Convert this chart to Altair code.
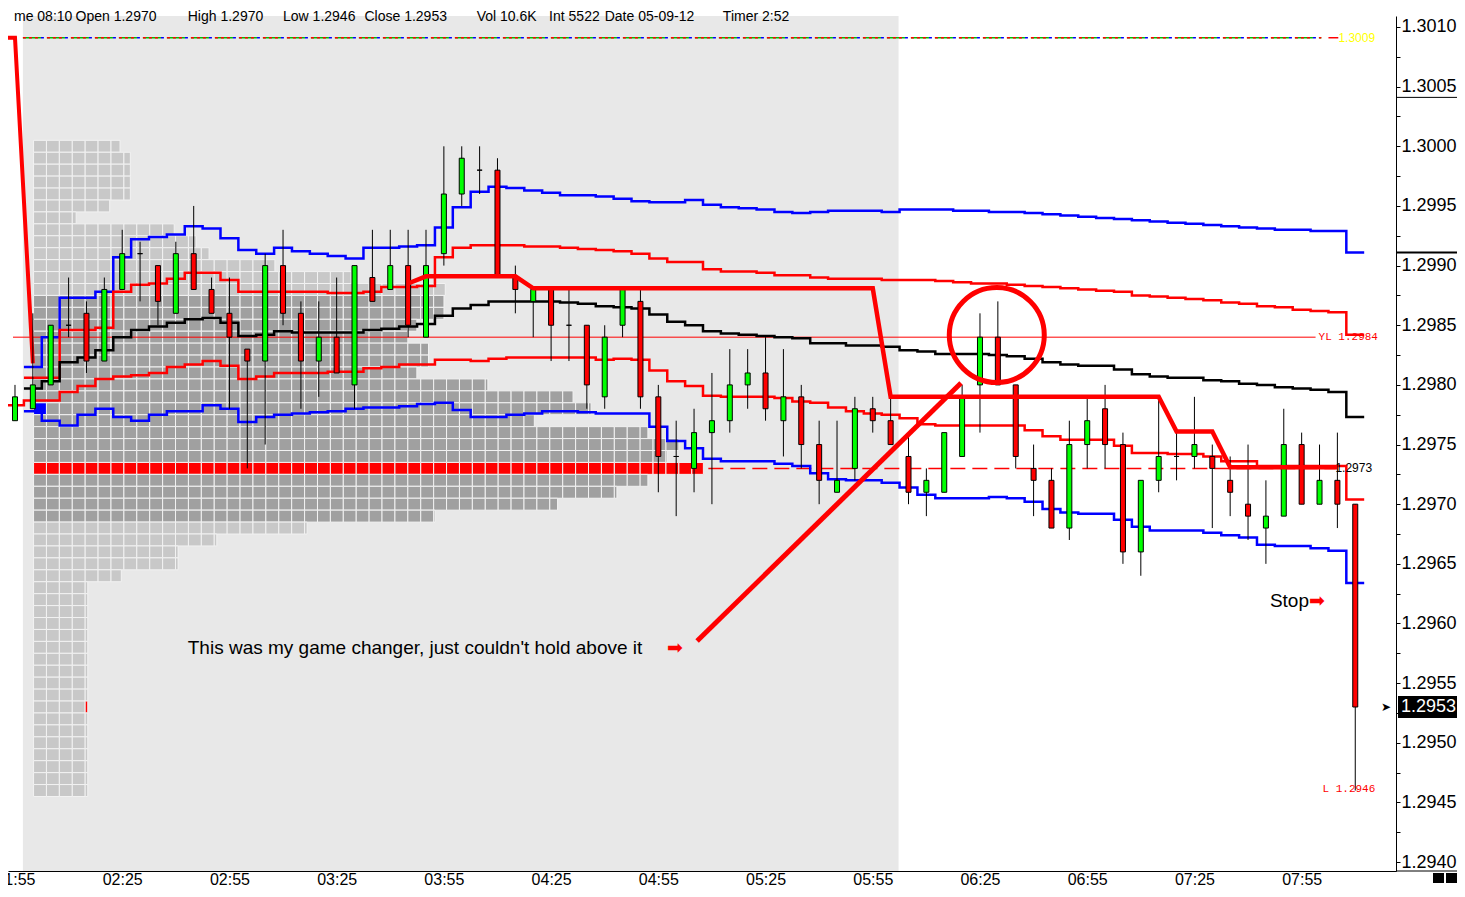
import altair as alt
import pandas as pd

# ---------------- data ----------------
x_tick_labels = ["01:55", "02:25", "02:55", "03:25", "03:55", "04:25", "04:55",
                 "05:25", "05:55", "06:25", "06:55", "07:25", "07:55"]
y_tick_labels = ["1.2940", "1.2945", "1.2950", "1.2955", "1.2960", "1.2965", "1.2970", "1.2975",
                 "1.2980", "1.2985", "1.2990", "1.2995", "1.3000", "1.3005", "1.3010"]

# 5-minute bars, 01:55 .. 08:10
opens = [1.2977, 1.2978, 1.2980, 1.2985, 1.2986, 1.2982, 1.2988, 1.2991, 1.2990, 1.2986,
         1.2991, 1.2988, 1.2986, 1.2983, 1.2982, 1.2990, 1.2986, 1.2982, 1.2984, 1.2980,
         1.2989, 1.2988, 1.2990, 1.2984, 1.2991, 1.2996, 1.2998, 1.2998, 1.2989, 1.2987,
         1.2988, 1.2985, 1.2985, 1.2979, 1.2985, 1.2987, 1.2979, 1.2974, 1.2973, 1.2976,
         1.2977, 1.2980, 1.2981, 1.2977, 1.2979, 1.2975, 1.2971, 1.2973, 1.2978, 1.2977,
         1.2974, 1.2971, 1.2971, 1.2974, 1.2980, 1.2984, 1.2980, 1.2973, 1.2972, 1.2968,
         1.2975, 1.2978, 1.2975, 1.2966, 1.2972, 1.2974, 1.2974, 1.2974, 1.2972, 1.2970,
         1.2968, 1.2969, 1.2975, 1.2970, 1.2972, 1.2970]
highs = [1.2980, 1.2986, 1.2985, 1.2989, 1.2987, 1.2989, 1.2993, 1.2992, 1.2990, 1.2992,
         1.2995, 1.2989, 1.2989, 1.2983, 1.2991, 1.2993, 1.2987, 1.2987, 1.2989, 1.2990,
         1.2993, 1.2993, 1.2993, 1.2993, 1.3000, 1.3000, 1.3000, 1.2999, 1.2990, 1.2988,
         1.2988, 1.2988, 1.2985, 1.2985, 1.2988, 1.2988, 1.2980, 1.2977, 1.2978, 1.2981,
         1.2983, 1.2983, 1.2984, 1.2983, 1.2980, 1.2977, 1.2977, 1.2979, 1.2979, 1.2979,
         1.2976, 1.2973, 1.2976, 1.2980, 1.2986, 1.2987, 1.2980, 1.2975, 1.2973, 1.2977,
         1.2979, 1.2980, 1.2976, 1.2972, 1.2979, 1.2976, 1.2979, 1.2975, 1.2974, 1.2975,
         1.2972, 1.2978, 1.2976, 1.2975, 1.2976, 1.2970]
lows = [1.2977, 1.2978, 1.2980, 1.2984, 1.2981, 1.2982, 1.2988, 1.2987, 1.2985, 1.2986,
        1.2988, 1.2986, 1.2978, 1.2973, 1.2975, 1.2985, 1.2978, 1.2979, 1.2981, 1.2978,
        1.2987, 1.2988, 1.2984, 1.2984, 1.2990, 1.2995, 1.2996, 1.2989, 1.2986, 1.2984,
        1.2982, 1.2982, 1.2978, 1.2978, 1.2984, 1.2978, 1.2971, 1.2969, 1.2971, 1.2970,
        1.2976, 1.2978, 1.2977, 1.2974, 1.2973, 1.2970, 1.2971, 1.2972, 1.2976, 1.2975,
        1.2970, 1.2969, 1.2971, 1.2974, 1.2976, 1.2980, 1.2973, 1.2969, 1.2968, 1.2967,
        1.2973, 1.2973, 1.2965, 1.2964, 1.2971, 1.2972, 1.2973, 1.2968, 1.2969, 1.2967,
        1.2965, 1.2969, 1.2970, 1.2970, 1.2968, 1.2946]
closes = [1.2979, 1.2980, 1.2985, 1.2985, 1.2982, 1.2988, 1.2991, 1.2991, 1.2987, 1.2991,
          1.2988, 1.2986, 1.2984, 1.2982, 1.2990, 1.2986, 1.2982, 1.2984, 1.2981, 1.2990,
          1.2987, 1.2990, 1.2985, 1.2990, 1.2996, 1.2999, 1.2998, 1.2989, 1.2988, 1.2988,
          1.2985, 1.2985, 1.2980, 1.2984, 1.2988, 1.2979, 1.2974, 1.2974, 1.2976, 1.2977,
          1.2980, 1.2981, 1.2978, 1.2979, 1.2975, 1.2972, 1.2972, 1.2978, 1.2977, 1.2975,
          1.2971, 1.2972, 1.2976, 1.2979, 1.2984, 1.2980, 1.2974, 1.2972, 1.2968, 1.2975,
          1.2977, 1.2975, 1.2966, 1.2972, 1.2974, 1.2974, 1.2975, 1.2973, 1.2971, 1.2969,
          1.2969, 1.2975, 1.2970, 1.2972, 1.2970, 1.2953]

# band / VWAP values per bar (None = not drawn)
blue_up = [None, 1.29815, 1.29840, 1.29873, 1.29873, 1.29878, 1.29907, 1.29922, 1.29924, 1.29926,
           1.29933, 1.29931, 1.29923, 1.29913, 1.29910, 1.29915, 1.29912, 1.29910, 1.29908, 1.29906,
           1.29915, 1.29915, 1.29916, 1.29917, 1.29932, 1.29949, 1.29962, 1.29966, 1.29965, 1.29963,
           1.29961, 1.29959, 1.29959, 1.29958, 1.29956, 1.29954, 1.29953, 1.29953, 1.29955, 1.29951,
           1.29949, 1.29948, 1.29947, 1.29945, 1.29944, 1.29945, 1.29946, 1.29946, 1.29946, 1.29945,
           1.29947, 1.29947, 1.29947, 1.29946, 1.29946, 1.29945, 1.29945, 1.29944, 1.29943, 1.29942,
           1.29941, 1.29940, 1.29939, 1.29938, 1.29937, 1.29936, 1.29935, 1.29934, 1.29933, 1.29932,
           1.29931, 1.29930, 1.29930, 1.29929, 1.29929, 1.29911]
red_up = [None, 1.29806, 1.29806, 1.29846, 1.29846, 1.29848, 1.29878, 1.29884, 1.29885, 1.29889,
          1.29894, 1.29894, 1.29888, 1.29878, 1.29878, 1.29878, 1.29878, 1.29878, 1.29877, 1.29877,
          1.29878, 1.29882, 1.29882, 1.29883, 1.29907, 1.29915, 1.29917, 1.29917, 1.29917, 1.29916,
          1.29916, 1.29915, 1.29914, 1.29913, 1.29912, 1.29910, 1.29906, 1.29903, 1.29903, 1.29897,
          1.29895, 1.29895, 1.29894, 1.29892, 1.29892, 1.29890, 1.29889, 1.29889, 1.29889, 1.29888,
          1.29888, 1.29888, 1.29887, 1.29886, 1.29885, 1.29885, 1.29884, 1.29883, 1.29882, 1.29881,
          1.29880, 1.29879, 1.29878, 1.29875, 1.29874, 1.29873, 1.29872, 1.29871, 1.29869, 1.29868,
          1.29866, 1.29865, 1.29863, 1.29862, 1.29861, 1.29842]
vwap = [None, 1.29797, 1.29803, 1.29819, 1.29823, 1.29829, 1.29840, 1.29846, 1.29849, 1.29852,
        1.29855, 1.29856, 1.29852, 1.29841, 1.29842, 1.29845, 1.29844, 1.29844, 1.29844, 1.29844,
        1.29846, 1.29847, 1.29849, 1.29851, 1.29858, 1.29864, 1.29867, 1.29870, 1.29870, 1.29870,
        1.29870, 1.29869, 1.29868, 1.29866, 1.29865, 1.29864, 1.29859, 1.29853, 1.29850, 1.29845,
        1.29843, 1.29842, 1.29841, 1.29840, 1.29839, 1.29835, 1.29835, 1.29833, 1.29833, 1.29832,
        1.29829, 1.29828, 1.29826, 1.29826, 1.29826, 1.29825, 1.29824, 1.29822, 1.29819, 1.29817,
        1.29816, 1.29816, 1.29813, 1.29809, 1.29807, 1.29806, 1.29806, 1.29804, 1.29803, 1.29801,
        1.29800, 1.29798, 1.29797, 1.29796, 1.29794, 1.29773]
red_lo = [1.29783, 1.29787, 1.29787, 1.29794, 1.29799, 1.29805, 1.29807, 1.29808, 1.29810, 1.29815,
          1.29817, 1.29820, 1.29816, 1.29805, 1.29807, 1.29810, 1.29810, 1.29810, 1.29811, 1.29811,
          1.29814, 1.29815, 1.29817, 1.29817, 1.29821, 1.29821, 1.29820, 1.29822, 1.29823, 1.29823,
          1.29823, 1.29823, 1.29823, 1.29821, 1.29822, 1.29821, 1.29812, 1.29803, 1.29799, 1.29791,
          1.29790, 1.29790, 1.29790, 1.29789, 1.29786, 1.29785, 1.29781, 1.29778, 1.29776, 1.29775,
          1.29772, 1.29767, 1.29766, 1.29766, 1.29766, 1.29766, 1.29766, 1.29762, 1.29757, 1.29754,
          1.29754, 1.29754, 1.29749, 1.29743, 1.29743, 1.29742, 1.29742, 1.29740, 1.29736, 1.29736,
          1.29732, 1.29732, 1.29732, 1.29732, 1.29732, 1.29704]
blue_lo = [None, 1.29778, 1.29770, 1.29766, 1.29775, 1.29780, 1.29773, 1.29770, 1.29775, 1.29778,
           1.29778, 1.29783, 1.29780, 1.29769, 1.29773, 1.29775, 1.29776, 1.29777, 1.29778, 1.29780,
           1.29781, 1.29781, 1.29782, 1.29784, 1.29785, 1.29779, 1.29773, 1.29773, 1.29775, 1.29776,
           1.29778, 1.29778, 1.29777, 1.29776, 1.29776, 1.29776, 1.29765, 1.29753, 1.29747, 1.29738,
           1.29736, 1.29736, 1.29736, 1.29734, 1.29732, 1.29726, 1.29721, 1.29720, 1.29720, 1.29718,
           1.29714, 1.29708, 1.29705, 1.29705, 1.29705, 1.29706, 1.29705, 1.29702, 1.29696, 1.29693,
           1.29692, 1.29692, 1.29687, 1.29681, 1.29678, 1.29678, 1.29678, 1.29676, 1.29674, 1.29672,
           1.29666, 1.29665, 1.29665, 1.29663, 1.29661, 1.29634]

# thick red key-level line (bar index, price)
level_bars = [22, 23, 28, 29, 48, 49, 64, 65, 67, 68, 74]
level_vals = [1.29885, 1.29891, 1.29891, 1.29881, 1.29881, 1.29790, 1.29790, 1.29761, 1.29761, 1.29731, 1.29731]
# opening red line falling from the previous level
start_bars = [-0.6, 0.0, 1.0]
start_vals = [1.30091, 1.30091, 1.29818]

# volume profile (price levels and width in grid cells)
prof_prices = [round(1.3000 - 0.0001 * k, 4) for k in range(55)]
prof_cells = [6.7, 7.5, 7.5, 7.5, 7.5, 5.9, 3.3, 10.9, 12.6, 13.6,
              18.7, 24.6, 31.9, 31.8, 31.8, 29.7, 29.0, 30.6, 30.6, 29.7,
              35.2, 41.8, 43.2, 38.8, 47.6, 50.0, 49.1, 51.9, 47.6, 45.2,
              40.6, 31.1, 21.2, 14.2, 11.2, 11.2, 6.8,
              4.2, 4.2, 4.2, 4.2, 4.2, 4.2, 4.2, 4.2, 4.2, 4.2, 4.2, 4.2, 4.2, 4.2, 4.2, 4.2, 4.2, 4.2]
poc_price = 1.2973
va_high, va_low = 1.2987, 1.2969
session_open_price = 1.2978

yl_price = 1.2984
poc_line_price = 1.2973
top_line_price = 1.30091
day_low_price = 1.2946
axis_marks = [1.30041, 1.29911]

header_fields = ["me 08:10", f"Open {opens[-1]:.4f}", f"High {highs[-1]:.4f}", f"Low {lows[-1]:.4f}",
                 f"Close {closes[-1]:.4f}", "Vol 10.6K", "Int 5522", "Date 05-09-12", "Timer 2:52"]

# ---------------- layout ----------------
FONT = "Liberation Sans, Arial, Helvetica, sans-serif"
MONO = "Liberation Mono, DejaVu Sans Mono, monospace"
W, H = 1388, 855
XD = [-2 / 18, 1386 / 18]
YD = [1.2939254, 1.3010922]
xs = alt.Scale(domain=XD, nice=False, zero=False)
ys = alt.Scale(domain=YD, nice=False, zero=False)

arr = "[" + ",".join(f"'{t}'" for t in x_tick_labels) + "]"
x_axis = alt.Axis(values=[6 * k for k in range(len(x_tick_labels))],
                  labelExpr=f"{arr}[round(datum.value/6)]",
                  ticks=False, labelFontSize=16, labelFont=FONT, labelColor="black",
                  labelPadding=0, labelBaseline="top", domainColor="black", grid=False,
                  labelFlush=False, labelOverlap=False, title="", zindex=1)
majors = [float(s) for s in y_tick_labels]
ytick_vals = sorted(set(majors + [round(m + 0.00025, 5) for m in majors[:-1]]))
y_axis = alt.Axis(orient="right", values=ytick_vals,
                  labelExpr="(round(datum.value*4000) % 2 == 0) ? format(datum.value, '.4f') : ''",
                  labelFontSize=18, labelFont=FONT, labelColor="black", labelAlign="left",
                  labelBaseline="middle", labelPadding=1, tickColor="black", tickSize=4,
                  domainColor="black", grid=False, labelFlush=False, labelOverlap=False,
                  title="", zindex=1)


def X(f):
    return alt.X(f, type="quantitative", scale=xs, axis=x_axis)


def Y(f):
    return alt.Y(f, type="quantitative", scale=ys, axis=y_axis)


def bx(px):  # picture x -> bar units
    return (px - 10) / 18


one = pd.DataFrame({"a": [0]})

# session background
bg_df = pd.DataFrame({"x0": [0.444], "x1": [49.444], "y0": [YD[0]], "y1": [YD[1]]})
bg = alt.Chart(bg_df).mark_rect(color="#e8e8e8").encode(x=X("x0"), x2="x1", y=Y("y0"), y2="y1")

# volume profile cells
P0 = (28.7 - 10) / 18
CW = 13 / 18
cells = []
for p, n in zip(prof_prices, prof_cells):
    k = 0
    while k < n - 1e-9:
        w = min(1.0, n - k)
        if abs(p - poc_price) < 1e-6:
            f = "#ff0000"
        elif va_low - 1e-6 <= p <= va_high + 1e-6:
            f = "#a0a0a0"
        else:
            f = "#c8c8c8"
        if abs(p - session_open_price) < 1e-6 and k == 0:
            f = "#0000ff"
        if abs(p - closes[-1]) < 1e-6 and k + 1 >= n:
            f = "#ff0000"
        cells.append({"x0": P0 + k * CW, "x1": P0 + (k + w) * CW,
                      "y0": p - 0.00005, "y1": p + 0.00005, "f": f})
        k += 1
prof = alt.Chart(pd.DataFrame(cells)).mark_rect(stroke="#f2f2f2", strokeWidth=1).encode(
    x=X("x0"), x2="x1", y=Y("y0"), y2="y1", color=alt.Color("f:N", scale=None))

# horizontal reference lines
yl_df = pd.DataFrame({"x0": [XD[0]], "x1": [72.78], "y": [yl_price]})
yl = alt.Chart(yl_df).mark_rule(color="#ff0000", strokeWidth=1).encode(x=X("x0"), x2="x1", y=Y("y"))
poc_df = pd.DataFrame({"x0": [38.8], "x1": [73.9], "y": [poc_line_price]})
poc_line = alt.Chart(poc_df).mark_rule(color="#ff0000", strokeWidth=1.5, strokeDash=[15, 7]).encode(
    x=X("x0"), x2="x1", y=Y("y"))
top_df = pd.DataFrame({"x0": [0.444], "x1": [73.1], "y": [top_line_price]})
top_g = alt.Chart(top_df).mark_rule(color="#00c000", strokeWidth=1.5, strokeDash=[18, 6]).encode(
    x=X("x0"), x2="x1", y=Y("y"))
top_r = alt.Chart(top_df).mark_rule(color="#ff0000", strokeWidth=1.5, strokeDash=[3, 3, 3, 3, 3, 9]).encode(
    x=X("x0"), x2="x1", y=Y("y"))
top_b = alt.Chart(top_df).mark_rule(color="#0000ff", strokeWidth=1.5, strokeDash=[3, 21],
                                    strokeDashOffset=-18).encode(x=X("x0"), x2="x1", y=Y("y"))
top_end = alt.Chart(pd.DataFrame({"x0": [73.5], "x1": [74.05], "y": [top_line_price]})).mark_rule(
    color="#ff0000", strokeWidth=1.5).encode(x=X("x0"), x2="x1", y=Y("y"))

# bands
rows = []
for name, vals, col in [("blue_up", blue_up, "#0000ff"), ("red_up", red_up, "#ff0000"),
                        ("vwap", vwap, "#000000"), ("red_lo", red_lo, "#ff0000"),
                        ("blue_lo", blue_lo, "#0000ff")]:
    idx = [i for i, v in enumerate(vals) if v is not None]
    for i in idx:
        rows.append({"s": name, "x": i - 0.5, "v": vals[i], "c": col})
    rows.append({"s": name, "x": idx[-1] + 0.5, "v": vals[idx[-1]], "c": col})
bands = alt.Chart(pd.DataFrame(rows)).mark_line(interpolate="step-after", strokeWidth=2.5).encode(
    x=X("x"), y=Y("v"), color=alt.Color("c:N", scale=None), detail="s:N")

level = alt.Chart(pd.DataFrame({"x": level_bars, "v": level_vals})).mark_line(
    color="#ff0000", strokeWidth=4.5).encode(x=X("x"), y=Y("v"))
start = alt.Chart(pd.DataFrame({"x": start_bars, "v": start_vals})).mark_line(
    color="#ff0000", strokeWidth=4).encode(x=X("x"), y=Y("v"))

# candles
cdf = pd.DataFrame({"x": list(range(len(opens))), "o": opens, "h": highs, "l": lows, "c": closes})
cdf["f"] = ["#00ff00" if c > o else "#ff0000" for o, c in zip(opens, closes)]
wicks = alt.Chart(cdf).mark_rule(color="black", strokeWidth=1).encode(x=X("x"), y=Y("l"), y2="h")
bodies = alt.Chart(cdf).mark_bar(size=5, stroke="black", strokeWidth=1).encode(
    x=X("x"), y=Y("o"), y2="c", color=alt.Color("f:N", scale=None))

# annotations
circle = alt.Chart(pd.DataFrame({"x": [54.94], "y": [1.298418]})).mark_point(
    shape="circle", filled=False, size=9025, color="#ff0000", strokeWidth=5, opacity=1).encode(
    x=X("x"), y=Y("y"))
diag = alt.Chart(pd.DataFrame({"x": [38.17, 52.94], "y": [1.295853, 1.298016]})).mark_line(
    color="#ff0000", strokeWidth=5).encode(x=X("x"), y=Y("y"))


def label(x, y, text, color="black", size=19, font=FONT, align="left"):
    return alt.Chart(pd.DataFrame({"x": [x], "y": [y], "t": [text]})).mark_text(
        align=align, baseline="middle", fontSize=size, font=font, color=color).encode(
        x=X("x"), y=Y("y"), text="t:N")


txt1 = label(bx(184), 1.295795, "This was my game changer, just couldn't hold above it")
arr1 = label(bx(675), 1.295795, "➡", color="#ff0000", size=19, align="center")
stop = label(bx(1274), 1.296189, "Stop")
arr2 = label(bx(1321), 1.296189, "➡", color="#ff0000", size=19, align="center")
yl_t = label(bx(1323), yl_price, f"YL {yl_price:.4f}", color="#ff0000", size=11, font=MONO)
poc_t = label(bx(1340), poc_line_price, f"{poc_line_price:.4f}", size=12)
low_t = label(bx(1327), 1.29461, f"L {day_low_price:.4f}", color="#ff0000", size=11, font=MONO)
top_t = label(bx(1343), top_line_price, f"{top_line_price:.4f}", color="#ffff00", size=12)

# header (positions in picture pixels, converted to bar units)
hx = [9, 71, 184, 280, 362, 475, 548, 604, 723]
hdf = pd.DataFrame({"x": [bx(v) for v in hx], "t": header_fields})
header = alt.Chart(hdf).mark_text(align="left", baseline="alphabetic", fontSize=14, font=FONT,
                                  color="black").encode(x=X("x"), y=alt.value(5), text="t:N")

# price marker on the axis
pm_box = alt.Chart(pd.DataFrame({"y0": [1.295392], "y1": [1.295208]})).mark_rect(color="black").encode(
    x=alt.value(1390), x2=alt.value(1449), y=Y("y0"), y2="y1")
pm_txt = alt.Chart(pd.DataFrame({"y": [closes[-1]], "t": [f"{closes[-1]:.4f}"]})).mark_text(
    align="left", baseline="middle", fontSize=18, font=FONT, color="white").encode(
    x=alt.value(1393), y=Y("y"), text="t:N")
pm_arrow = alt.Chart(pd.DataFrame({"y": [closes[-1]], "t": ["➤"]})).mark_text(
    align="center", baseline="middle", fontSize=12, color="black").encode(
    x=alt.value(1378), y=Y("y"), text="t:N")
ax_marks = alt.Chart(pd.DataFrame({"y": axis_marks, "w": [1, 2]})).mark_rule(color="black").encode(
    x=alt.value(1388), x2=alt.value(1449), y=Y("y"),
    strokeWidth=alt.StrokeWidth("w:Q", scale=None))
bottom_ext = alt.Chart(one).mark_rule(color="black", strokeWidth=1).encode(
    x=alt.value(1388), x2=alt.value(1449), y=alt.value(855))
sq1 = alt.Chart(one).mark_rect(color="black").encode(
    x=alt.value(1425), x2=alt.value(1436), y=alt.value(857), y2=alt.value(867))
sq2 = alt.Chart(one).mark_rect(color="black").encode(
    x=alt.value(1438), x2=alt.value(1449), y=alt.value(857), y2=alt.value(867))

chart = alt.layer(
    bg, prof, yl, poc_line, top_g, top_r, top_b, top_end, bands, start, wicks, bodies, level,
    circle, diag, txt1, arr1, stop, arr2, yl_t, poc_t, low_t, top_t, header,
    pm_box, pm_txt, pm_arrow, ax_marks, bottom_ext, sq1, sq2
).properties(
    width=W, height=H,
    padding={"left": 0, "top": 8, "right": 61, "bottom": 16},
    autosize=alt.AutoSizeParams(type="none"),
).configure_view(strokeWidth=0)

chart.save("out.html", embed_options={"renderer": "svg", "actions": False})
